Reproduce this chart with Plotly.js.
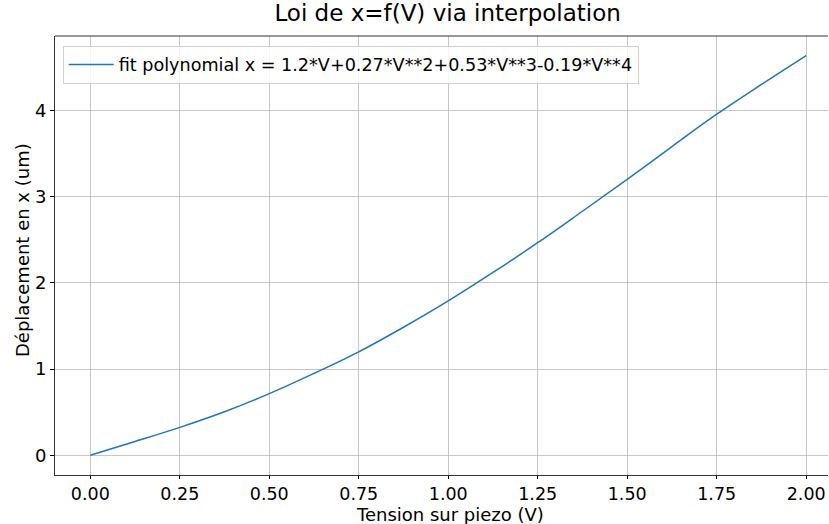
<!DOCTYPE html>
<html>
<head>
<meta charset="utf-8">
<script src="https://cdn.plot.ly/plotly-3.0.1.min.js"></script>
<style>html,body{margin:0;padding:0;overflow:hidden;background:#fff}</style>
</head>
<body>
<div id="chart" style="width:829px;height:524px"></div>
<script>
const tension = [0, 0.125, 0.25, 0.375, 0.5, 0.625, 0.75, 0.875, 1.0, 1.125, 1.25, 1.375, 1.5, 1.625, 1.75, 1.875, 2.0];
const deplacement = [0, 0.16, 0.324, 0.505, 0.715, 0.95, 1.20, 1.485, 1.79, 2.12, 2.465, 2.83, 3.20, 3.58, 3.955, 4.30, 4.635];
const seriesName = "fit polynomial x = 1.2*V+0.27*V**2+0.53*V**3-0.19*V**4";
const xTicks = [0, 0.25, 0.5, 0.75, 1.0, 1.25, 1.5, 1.75, 2.0];
const xTickText = ["0.00", "0.25", "0.50", "0.75", "1.00", "1.25", "1.50", "1.75", "2.00"];
const yTicks = [0, 1, 2, 3, 4];
const xTitle = "Tension sur piezo (V)";
const yTitle = "Déplacement en x (um)";
const chartTitle = "Loi de x=f(V) via interpolation";

const font = "DejaVu Sans, sans-serif";
Plotly.newPlot("chart", [{
  x: tension, y: deplacement, type: "scatter", mode: "lines",
  name: seriesName,
  line: {color: "#1f77b4", width: 1.5, shape: "spline"}
}], {
  width: 829, height: 524,
  margin: {l: 55, r: 1, t: 36, b: 49},
  paper_bgcolor: "#fff", plot_bgcolor: "#fff",
  font: {family: font, color: "#000"},
  title: {text: chartTitle, font: {size: 23, family: font, color: "#000"},
          x: 0.54, xanchor: "center", y: 0.99, yanchor: "top"},
  showlegend: true,
  legend: {x: 0.010, y: 0.978, xanchor: "left", yanchor: "top",
           bgcolor: "rgba(255,255,255,0.8)", bordercolor: "#d0d0d0", borderwidth: 1,
           itemwidth: 45,
           font: {size: 17.6, family: font, color: "#000"}},
  xaxis: {
    range: [-0.0986, 2.061], tickvals: xTicks, ticktext: xTickText,
    showgrid: true, gridcolor: "#b8b8b8", gridwidth: 0.8,
    showline: true, linecolor: "#333", linewidth: 1, mirror: false,
    ticks: "outside", ticklen: 3, tickcolor: "#000", tickwidth: 1,
    tickfont: {size: 17.5, family: font, color: "#000"},
    zeroline: false
  },
  yaxis: {
    range: [-0.228, 4.862], tickvals: yTicks,
    showgrid: true, gridcolor: "#b8b8b8", gridwidth: 0.8,
    showline: true, linecolor: "#333", linewidth: 1,
    ticks: "outside", ticklen: 4, tickcolor: "#000", tickwidth: 1,
    tickfont: {size: 18, family: font, color: "#000"},
    zeroline: false
  },
  annotations: [
    {text: xTitle, xref: "paper", yref: "paper", x: 0.511, y: -0.0895,
     xanchor: "center", yanchor: "middle", showarrow: false,
     font: {size: 18, family: font, color: "#000"}},
    {text: yTitle, xref: "paper", yref: "paper", x: -0.0427, y: 0.5125,
     xanchor: "center", yanchor: "middle", showarrow: false, textangle: -90,
     font: {size: 18, family: font, color: "#000"}}
  ],
  shapes: [{type: "line", xref: "paper", yref: "paper", x0: 0, x1: 1, y0: 1, y1: 1,
            line: {color: "#333", width: 1}}]
}, {displayModeBar: false, staticPlot: true});
</script>
</body>
</html>
